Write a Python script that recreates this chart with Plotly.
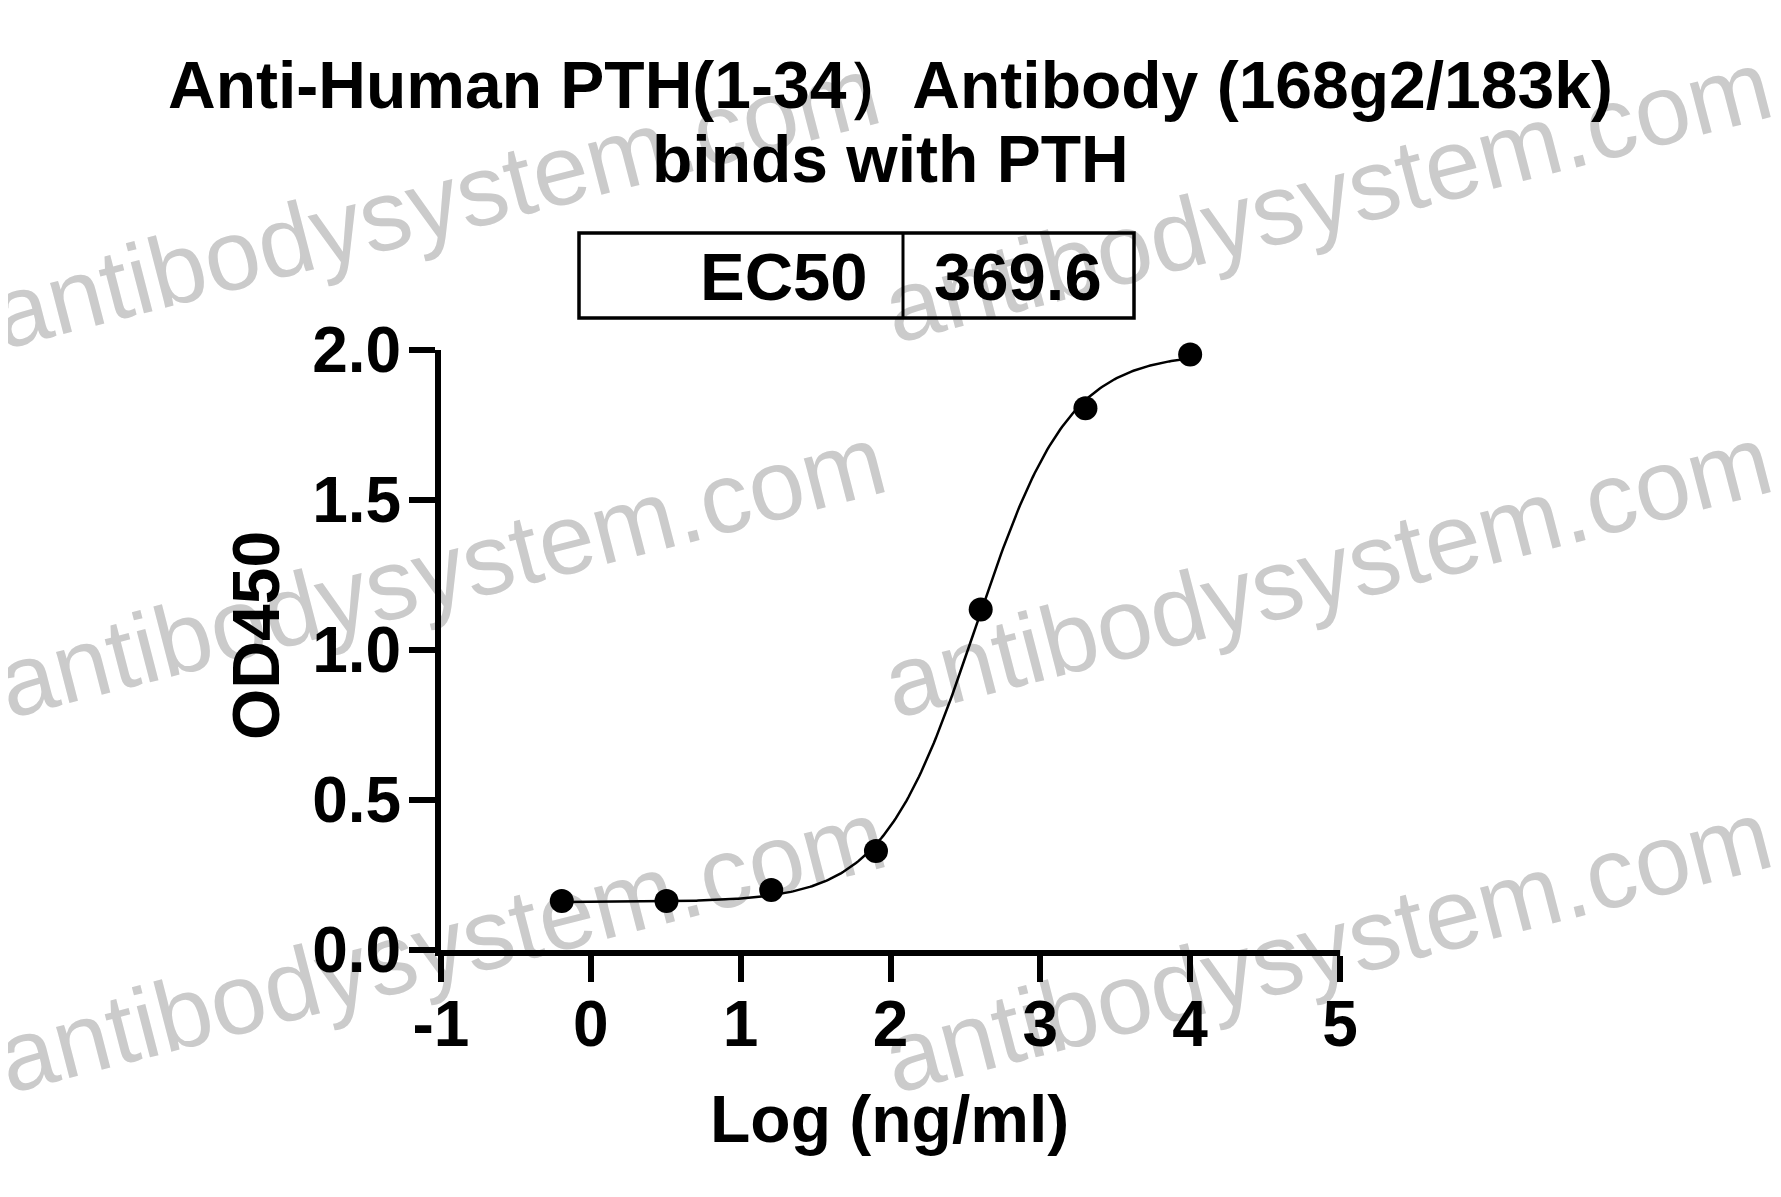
import numpy as np
import plotly.graph_objects as go

# ---- data ----
log_conc = [-0.194, 0.505, 1.204, 1.903, 2.602, 3.301, 4.0]
od450 = [0.163, 0.163, 0.200, 0.330, 1.135, 1.806, 1.985]
ec50 = 369.6
fit_bottom, fit_top, fit_hill = 0.16, 1.99, 1.4
x_ticks = [-1, 0, 1, 2, 3, 4, 5]
y_ticks = [0.0, 0.5, 1.0, 1.5, 2.0]
title_lines = ["Anti-Human PTH(1-34\uff09Antibody (168g2/183k)", "binds with PTH"]
x_title = "Log (ng/ml)"
y_title = "OD450"
watermark = "antibodysystem.com"

OFF = 8  # default page body margin
W, H = 1781 - 2 * OFF, 1197 - 2 * OFF
# plot area in reference-image pixels
RL, RR, RT, RB = 441, 1340, 350, 950
L, R, T, B = RL - OFF, RR - OFF, RT - OFF, RB - OFF


def px(x):
    return (x - OFF - L) / (R - L)


def py(y):
    return (B - (y - OFF)) / (B - T)


# fitted 4PL curve
xs = np.linspace(min(log_conc), max(log_conc), 300)
ys = fit_bottom + (fit_top - fit_bottom) / (1 + 10 ** ((np.log10(ec50) - xs) * fit_hill))

FONT = "Liberation Sans, Arial, Helvetica, sans-serif"

fig = go.Figure()
fig.add_trace(go.Scatter(x=xs, y=ys, mode="lines", line=dict(color="black", width=2.5),
                         hoverinfo="skip", showlegend=False, cliponaxis=False))
fig.add_trace(go.Scatter(x=log_conc, y=od450, mode="markers", cliponaxis=False,
                         marker=dict(color="black", size=24), showlegend=False))

shapes = []
# watermark (drawn below everything)
wm_centers = [(433, 193), (1325, 187), (439, 562), (1325, 562), (439, 937), (1325, 937)]
for cx, cy in wm_centers:
    shapes.append(dict(type="rect", xref="paper", yref="paper",
                       x0=px(cx - 5), x1=px(cx + 5), y0=py(cy + 5), y1=py(cy - 5),
                       line=dict(width=0), fillcolor="rgba(0,0,0,0)", layer="below",
                       label=dict(text=watermark, textangle=-14.5, textposition="middle center",
                                  font=dict(family=FONT, size=100, color="#cbcbcb"))))
# EC50 box
shapes.append(dict(type="rect", xref="paper", yref="paper",
                   x0=px(579), x1=px(1134), y0=py(318), y1=py(233),
                   line=dict(color="black", width=3.5), fillcolor="rgba(0,0,0,0)", layer="above"))
shapes.append(dict(type="line", xref="paper", yref="paper",
                   x0=px(903), x1=px(903), y0=py(318), y1=py(233),
                   line=dict(color="black", width=3), layer="above"))

bold = lambda s: dict(family=FONT, size=s, color="black", weight="bold")
annotations = [
    dict(text=title_lines[0], x=px(890), y=py(85), xref="paper", yref="paper",
         showarrow=False, xanchor="center", yanchor="middle", font=bold(66)),
    dict(text=title_lines[1], x=px(890), y=py(159), xref="paper", yref="paper",
         showarrow=False, xanchor="center", yanchor="middle", font=bold(66)),
    dict(text="EC50", x=px(870), y=py(276), xref="paper", yref="paper",
         showarrow=False, xanchor="right", yanchor="middle", font=bold(67)),
    dict(text=f"{ec50}", x=px(932), y=py(276), xref="paper", yref="paper",
         showarrow=False, xanchor="left", yanchor="middle", font=bold(67)),
    dict(text=x_title, x=px(889), y=py(1119), xref="paper", yref="paper",
         showarrow=False, xanchor="center", yanchor="middle", font=bold(66)),
    dict(text=y_title, x=px(256), y=py(636), xref="paper", yref="paper",
         showarrow=False, xanchor="center", yanchor="middle", textangle=-90, font=bold(66)),
]

axis_font = bold(64)
fig.update_layout(
    width=W, height=H,
    margin=dict(l=L, r=W - R, t=T, b=H - B, autoexpand=False),
    paper_bgcolor="white", plot_bgcolor="rgba(0,0,0,0)",
    shapes=shapes, annotations=annotations,
    xaxis=dict(range=[-1, 5], tickvals=x_ticks, ticktext=[str(v) for v in x_ticks],
               showgrid=False, zeroline=False, showline=True, linecolor="black", linewidth=6,
               ticks="outside", ticklen=26, tickwidth=6, tickcolor="black",
               tickfont=axis_font, ticklabelstandoff=-13),
    yaxis=dict(range=[0, 2], tickvals=y_ticks, ticktext=[f"{v:.1f}" for v in y_ticks],
               showgrid=False, zeroline=False, showline=True, linecolor="black", linewidth=6,
               ticks="outside", ticklen=26, tickwidth=6, tickcolor="black",
               tickfont=axis_font, ticklabelstandoff=-5),
)

fig.write_html("out.html")
